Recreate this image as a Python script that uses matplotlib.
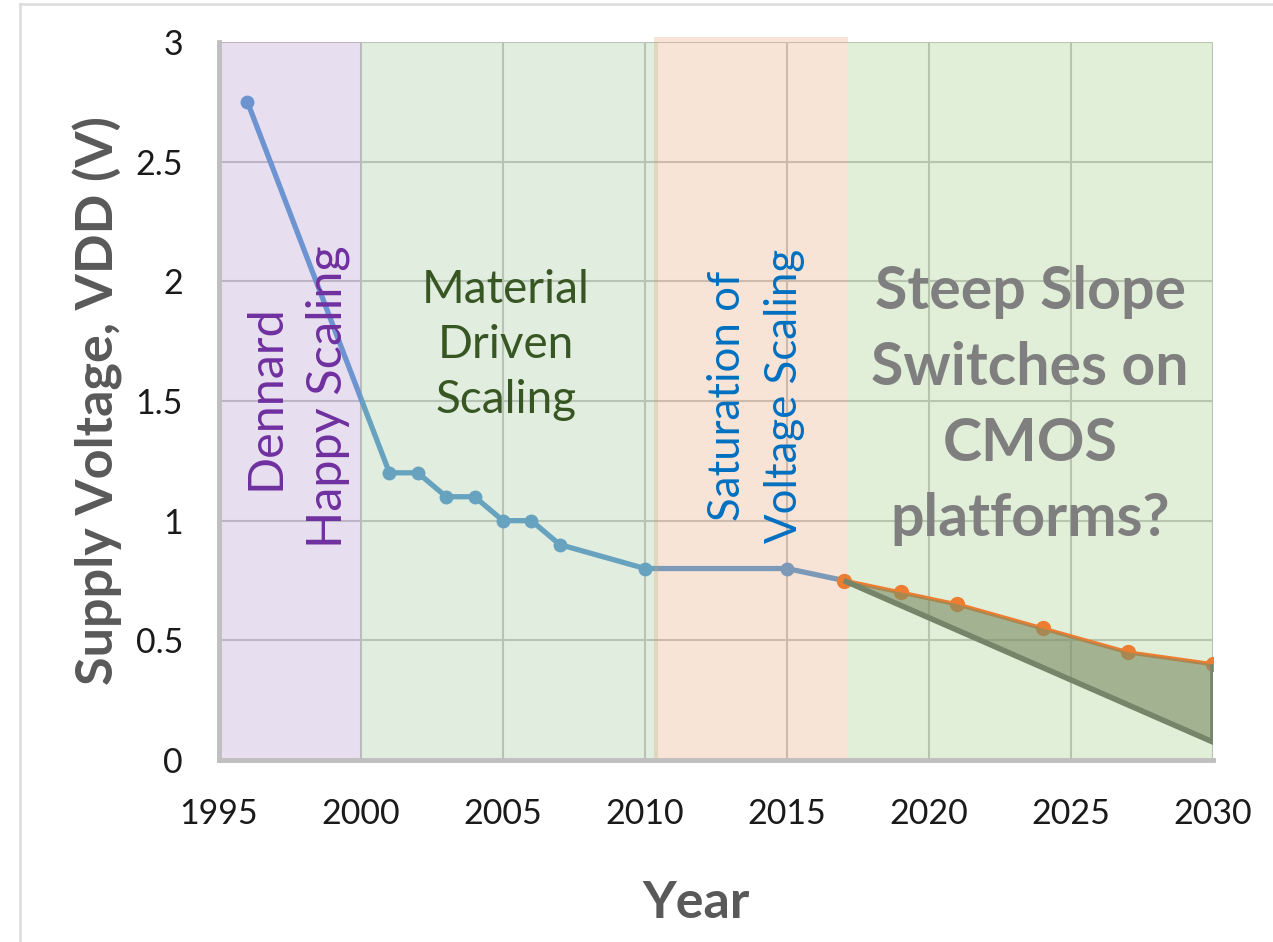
import matplotlib
matplotlib.use("Agg")
import matplotlib.pyplot as plt
from matplotlib.lines import Line2D
from matplotlib.ticker import FuncFormatter

plt.rcParams['font.family'] = ['Lato', 'DejaVu Sans']

# measured VDD (blue) and projection (orange)
years_hist = [1996, 2001, 2002, 2003, 2004, 2005, 2006, 2007, 2010, 2015, 2017]
vdd_hist = [2.75, 1.2, 1.2, 1.1, 1.1, 1.0, 1.0, 0.9, 0.8, 0.8, 0.75]

years_proj = [2017, 2019, 2021, 2024, 2027, 2030]
vdd_proj = [0.75, 0.70, 0.65, 0.55, 0.45, 0.40]

# steep-slope lower bound end point
low_end = 0.075

# era boundaries
eras = [(1995, 2000, '#a383c3'),
        (2000, 2010.45, '#8bbb7f'),
        (2010.3, 2017.15, '#e39763'),
        (2017.15, 2030, '#8bbf67')]

fig = plt.figure(figsize=(12.73, 9.42), dpi=100)
ax = fig.add_axes([219/1273, 1-760/942, (1213-219)/1273, (760-42)/942])

ax.set_xlim(1995, 2030)
ax.set_ylim(0, 3)
ax.set_xticks(range(1995, 2031, 5))
ax.set_yticks([0, 0.5, 1, 1.5, 2, 2.5, 3])
ax.yaxis.set_major_formatter(FuncFormatter(lambda v, p: '%g' % v))
ax.grid(True, color='#c6c6c6', lw=1.5, zorder=0.5)
ax.set_axisbelow(True)
ax.tick_params(length=0, labelsize=24.5, colors='#1a1a1a')
ax.tick_params(axis='x', pad=27)
ax.tick_params(axis='y', pad=26)
for s in ['top', 'right']:
    ax.spines[s].set_visible(False)
for s in ['left', 'bottom']:
    ax.spines[s].set_color('#bfbfbf')
    ax.spines[s].set_linewidth(3.5)

ax.plot(years_hist, vdd_hist, color='#5b9bd5', lw=3.8, marker='o', ms=9, zorder=1)

for i, (x0, x1, c) in enumerate(eras):
    top = 1.007 if i == 2 else 1.0
    ax.axvspan(x0, x1, ymin=0, ymax=top, color=c, alpha=0.25, lw=0, zorder=2, clip_on=False)

ax.plot(years_proj, vdd_proj, color='#ed7d31', lw=3, marker='o', ms=10, zorder=3)

poly_x = years_proj + [years_proj[-1]]
poly_y = vdd_proj + [low_end]
ax.fill(poly_x, poly_y, facecolor='#7d8f66', alpha=0.62, edgecolor='none', zorder=4)
ax.plot([years_proj[0], years_proj[-1], years_proj[-1]], [vdd_proj[0], low_end, vdd_proj[-1]],
        color='#76856a', lw=4, zorder=4, solid_capstyle='butt')

ax.text(1997.75, 1.517, 'Dennard\nHappy Scaling', rotation=90, ha='center', va='center',
        fontsize=35, color='#7030a0', linespacing=1.5, zorder=5)
ax.text(2005.1, 1.734, 'Material\nDriven\nScaling', ha='center', va='center',
        fontsize=33, color='#375623', linespacing=1.39, zorder=5)
ax.text(2013.9, 1.52, 'Saturation of\nVoltage Scaling', rotation=90, ha='center', va='center',
        fontsize=31.5, color='#0070c0', linespacing=1.47, zorder=5)
ax.text(2023.56, 1.48, 'Steep Slope\nSwitches on\nCMOS\nplatforms?', ha='center', va='center',
        fontsize=42.5, fontweight='bold', color='#7f7f7f', linespacing=1.49, zorder=5)

fig.text(98/1273, 1-401/942, 'Supply Voltage, VDD (V)', rotation=90, ha='center', va='center',
         fontsize=37.5, fontweight='bold', color='#595959')
fig.text(696/1273, 1-918/942, 'Year', ha='center', va='baseline',
         fontsize=37.5, fontweight='bold', color='#595959')

# outer frame lines
fig.add_artist(Line2D([20/1273, 20/1273], [0, 1-4/942], color='#dcdcdc', lw=1.8))
fig.add_artist(Line2D([20/1273, 1], [1-4/942, 1-4/942], color='#dcdcdc', lw=1.8))

fig.savefig('out.png', dpi=100)
